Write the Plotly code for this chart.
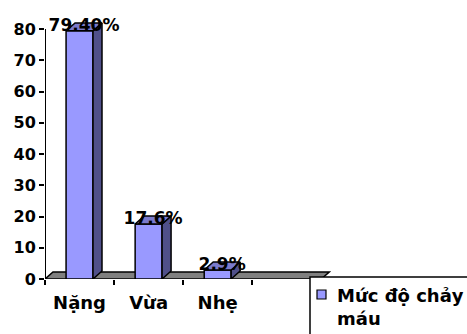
import plotly.graph_objects as go

# ---- data ----
categories = ["Nặng", "Vừa", "Nhẹ"]
values = [79.4, 17.6, 2.9]
value_labels = ["79.40%", "17.6%", "2.9%"]
series_name = "Mức độ chảy máu"
y_ticks = [0, 10, 20, 30, 40, 50, 60, 70, 80]
n_slots = 4

# ---- geometry / style ----
W, H = 467, 334
ML, MR, MT, MB = 45, 125, 19, 55
x_range = [0, 4.3]
y_range = [0, 83.2]
plot_w = W - ML - MR
plot_h = H - MT - MB
px_x = plot_w / (x_range[1] - x_range[0])
px_y = plot_h / (y_range[1] - y_range[0])

bar_w = 0.39
dx = 9 / px_x          # depth offset (bars)
dy = 8 / px_y
fdx = 8 / px_x         # depth offset (floor)
fdy = 7 / px_y
label_shift = 4 / px_y  # data labels sit slightly lower

FRONT = "#9999FF"
SIDE = "#50508A"
TOP = "#7A7ACC"
FLOOR = "#808080"
FONT = "DejaVu Sans"


def b(s):
    return f"<b>{s}</b>"


def font(size):
    return dict(family=FONT, size=size, color="black", weight=700)


xc = [i + 0.5 for i in range(len(categories))]

fig = go.Figure()

fig.add_trace(go.Bar(
    x=xc, y=values, width=bar_w,
    marker=dict(color=FRONT, line=dict(color="black", width=1.5)),
    showlegend=False, hoverinfo="skip",
))

sx, sy = [], []
tx, ty = [], []
for c, v in zip(xc, values):
    r = c + bar_w / 2
    l = c - bar_w / 2
    sx += [r, r + dx, r + dx, r, r, None]
    sy += [0, dy, v + dy, v, 0, None]
    tx += [l, l + dx, r + dx, r, l, None]
    ty += [v, v + dy, v + dy, v, v, None]

fig.add_trace(go.Scatter(x=sx, y=sy, mode="lines", fill="toself",
                         fillcolor=SIDE, line=dict(color="black", width=1.5),
                         showlegend=False, hoverinfo="skip"))
fig.add_trace(go.Scatter(x=tx, y=ty, mode="lines", fill="toself",
                         fillcolor=TOP, line=dict(color="black", width=1.5),
                         showlegend=False, hoverinfo="skip"))

fig.add_trace(go.Scatter(
    x=[c + dx / 2 for c in xc], y=[v + dy - label_shift for v in values],
    mode="text", text=[b(t) for t in value_labels], textposition="middle center",
    textfont=font(17),
    cliponaxis=False, showlegend=False, hoverinfo="skip",
))

shapes = []
shapes.append(dict(
    type="path", xref="x", yref="y", layer="below",
    path=f"M 0,0 L {n_slots},0 L {n_slots + fdx},{fdy} L {fdx},{fdy} Z",
    fillcolor=FLOOR, line=dict(color="black", width=1.5),
))
shapes.append(dict(type="line", xref="x", yref="y", x0=0, x1=0,
                   y0=0, y1=y_ticks[-1], line=dict(color="black", width=2)))


def pxx(p):
    return (p - ML) / plot_w


def pxy(p):
    return (H - MB - p) / plot_h


shapes.append(dict(type="rect", xref="paper", yref="paper",
                   x0=pxx(310), x1=pxx(490), y0=pxy(277), y1=pxy(350),
                   fillcolor="white", line=dict(color="black", width=1.5)))
shapes.append(dict(type="rect", xref="paper", yref="paper",
                   x0=pxx(317), x1=pxx(326), y0=pxy(290), y1=pxy(299),
                   fillcolor=FRONT, line=dict(color="black", width=1.2)))

annotations = [dict(
    xref="paper", yref="paper", x=pxx(335), y=pxy(283),
    xanchor="left", yanchor="top", align="left", showarrow=False,
    text=b(series_name.replace("chảy ", "chảy<br>")),
    font=font(18),
)]

fig.update_layout(
    width=W, height=H,
    margin=dict(l=ML, r=MR, t=MT, b=MB, pad=0),
    paper_bgcolor="white", plot_bgcolor="white",
    showlegend=False,
    shapes=shapes, annotations=annotations,
    xaxis=dict(
        range=x_range, showgrid=False, zeroline=False, showline=False,
        tickmode="array", tickvals=xc, ticktext=[b(c) for c in categories],
        ticks="", ticklabelstandoff=11,
        tickfont=font(18),
        minor=dict(tickmode="array", tickvals=list(range(n_slots + 1)),
                   ticks="outside", ticklen=5, tickwidth=1.5, tickcolor="black"),
        fixedrange=True,
    ),
    yaxis=dict(
        range=y_range, showgrid=False, zeroline=False, showline=False,
        tickmode="array", tickvals=y_ticks, ticktext=[b(t) for t in y_ticks],
        ticks="outside", ticklen=5, tickwidth=1.5, tickcolor="black",
        tickfont=font(16),
        fixedrange=True,
    ),
)

fig.write_html("out.html")
